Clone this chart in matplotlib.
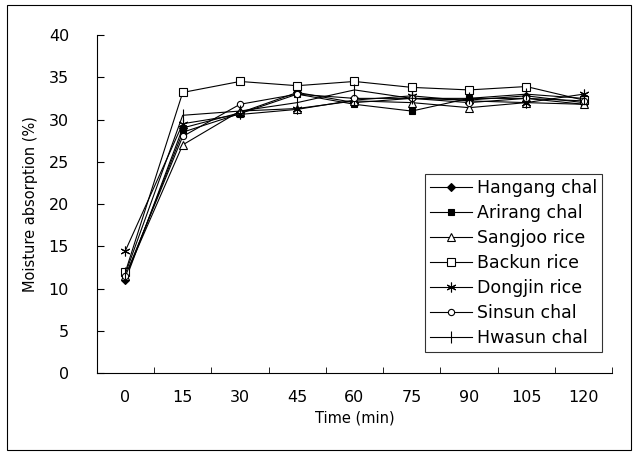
import matplotlib
matplotlib.use('Agg')
import matplotlib.pyplot as plt
from matplotlib.patches import Rectangle

# time points (min) and moisture absorption (%) for each variety
times = ['0', '15', '30', '45', '60', '75', '90', '105', '120']
hangang = [11.0, 29.0, 30.8, 33.2, 32.0, 32.5, 32.3, 32.8, 32.0]
arirang = [11.3, 28.5, 30.7, 33.0, 31.8, 31.0, 32.5, 32.5, 31.8]
sangjoo = [11.5, 27.0, 31.0, 31.3, 32.2, 32.0, 31.4, 32.0, 31.8]
backun = [12.0, 33.2, 34.5, 34.0, 34.5, 33.8, 33.5, 33.9, 32.3]
dongjin = [14.5, 29.5, 30.6, 31.2, 32.3, 32.8, 32.2, 32.0, 33.0]
sinsun = [11.5, 28.0, 31.8, 33.0, 32.5, 32.5, 32.0, 32.5, 32.2]
hwasun = [11.8, 30.5, 31.0, 32.0, 33.5, 32.5, 32.5, 33.0, 32.5]

series = [
    ('Hangang chal', hangang, dict(marker='D', ms=4, mfc='black')),
    ('Arirang chal', arirang, dict(marker='s', ms=4.5, mfc='black')),
    ('Sangjoo rice', sangjoo, dict(marker='^', ms=6, mfc='white')),
    ('Backun rice', backun, dict(marker='s', ms=6, mfc='white')),
    ('Dongjin rice', dongjin, dict(marker=(6, 2, 0), ms=7, mfc='black')),
    ('Sinsun chal', sinsun, dict(marker='o', ms=4.5, mfc='white')),
    ('Hwasun chal', hwasun, dict(marker='|', ms=9, mfc='black')),
]

fig = plt.figure(figsize=(6.37, 4.54), dpi=100)
ax = fig.add_axes([0.152, 0.178, 0.809, 0.745])

x = list(range(len(times)))
for name, vals, style in series:
    ax.plot(x, vals, color='black', lw=0.8, mec='black', mew=0.8,
            label=name, **style)

ax.set_xlim(-0.5, len(times) - 0.5)
ax.set_ylim(0, 40)
ax.set_yticks(range(0, 41, 5))
ax.set_xticks(x)
ax.set_xticklabels(times)
ax.set_xticks([i + 0.5 for i in range(len(times))], minor=True)
ax.tick_params(axis='x', which='major', length=0, pad=12, labelsize=11.5)
ax.tick_params(axis='x', which='minor', length=4, direction='in')
ax.tick_params(axis='y', length=5, direction='in', pad=20, labelsize=11.5)

for s in ['top', 'right']:
    ax.spines[s].set_visible(False)

ax.set_xlabel('Time (min)', fontsize=10.5, labelpad=4)
ax.set_ylabel('Moisture absorption (%)', fontsize=10.5, labelpad=8)

leg = ax.legend(loc='lower right', bbox_to_anchor=(0.981, 0.062),
                fontsize=12.5, frameon=True, fancybox=False, edgecolor='black',
                handlelength=2.4, handletextpad=0.3, borderpad=0.3,
                labelspacing=0.4, borderaxespad=0)
leg.get_frame().set_linewidth(0.8)

# outer border around the whole chart
fig.patches.append(Rectangle((0.011, 0.009), 0.98, 0.98, transform=fig.transFigure,
                             fill=False, edgecolor='black', lw=0.8))

plt.savefig('out.png', dpi=100)
